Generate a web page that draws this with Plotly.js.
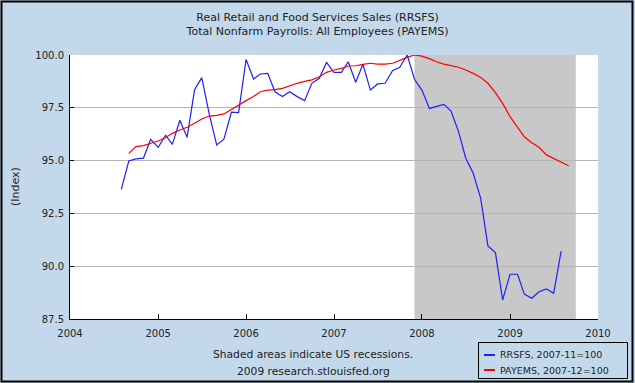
<!DOCTYPE html>
<html>
<head>
<meta charset="utf-8">
<script src="https://cdn.plot.ly/plotly-3.0.1.min.js"></script>
<style>
  html, body { margin: 0; padding: 0; background: #C3D8EB; }
  #chart { width: 635px; height: 383px; }
</style>
</head>
<body>
<div id="chart"></div>
<script>
// ---- data ----
const titleLines = ["Real Retail and Food Services Sales (RRSFS)", "Total Nonfarm Payrolls: All Employees (PAYEMS)"];
const seriesNames = ["RRSFS, 2007-11=100", "PAYEMS, 2007-12=100"];
const yAxisLabel = "(Index)";
const footnotes = ["Shaded areas indicate US recessions.", "2009 research.stlouisfed.org"];
const xTickVals = ["2004-01-01", "2005-01-01", "2006-01-01", "2007-01-01", "2008-01-01", "2009-01-01", "2010-01-01"];
const xTickText = ["2004", "2005", "2006", "2007", "2008", "2009", "2010"];
const yTickVals = [87.5, 90.0, 92.5, 95.0, 97.5, 100.0];
const recession = ["2007-12-01", "2009-10-01"];

const rrsfsStart = "2004-08";
const rrsfs = [
  93.64, 94.98, 95.08, 95.12, 96.01,
  95.63, 96.20, 95.77, 96.91, 96.10, 98.34, 98.93, 97.20, 95.74, 96.01, 97.29, 97.27,
  99.79, 98.86, 99.10, 99.13, 98.26, 98.03, 98.26, 98.03, 97.84, 98.66, 98.90, 99.65,
  99.18, 99.18, 99.68, 98.71, 99.56, 98.34, 98.63, 98.66, 99.26, 99.42, 100.0, 98.85,
  98.34, 97.47, 97.55, 97.66, 97.35, 96.37, 95.11, 94.40, 93.21, 90.96, 90.65, 88.40,
  89.62, 89.62, 88.68, 88.48, 88.79, 88.92, 88.72, 90.72
];
const payemsStart = "2004-09";
const payems = [
  95.34, 95.66, 95.71, 95.82,
  95.93, 96.09, 96.29, 96.45, 96.58, 96.77, 96.97, 97.11, 97.14, 97.21, 97.43, 97.62,
  97.84, 98.03, 98.26, 98.34, 98.36, 98.42, 98.55, 98.66, 98.75, 98.82, 98.97, 99.18,
  99.29, 99.37, 99.48, 99.49, 99.56, 99.61, 99.57, 99.57, 99.61, 99.76, 99.89, 100.0,
  99.95, 99.83, 99.68, 99.57, 99.49, 99.42, 99.29, 99.13, 98.93, 98.66, 98.22, 97.71,
  97.08, 96.61, 96.13, 95.85, 95.63, 95.27, 95.11, 94.95, 94.76
];
const colors = ["#1F1FFF", "#FF0000"];

// monthly date labels for each series
function months(start, n) {
  let [y, m] = start.split("-").map(Number);
  const out = [];
  for (let i = 0; i < n; i++) {
    out.push(y + "-" + String(m).padStart(2, "0") + "-01");
    m++; if (m > 12) { m = 1; y++; }
  }
  return out;
}

// ---- layout geometry ----
const W = 635, H = 383;
const L = 70, R = 598, T = 55, B = 319;
const px = x => (x - L) / (R - L);
const py = y => (B - y) / (B - T);
const font = "DejaVu Sans, Verdana, sans-serif";
const textColor = "#222222";

const traces = [
  { x: months(rrsfsStart, rrsfs.length), y: rrsfs, type: "scatter", mode: "lines",
    name: seriesNames[0], line: { color: colors[0], width: 1.2 }, showlegend: false, hoverinfo: "x+y" },
  { x: months(payemsStart, payems.length), y: payems, type: "scatter", mode: "lines",
    name: seriesNames[1], line: { color: colors[1], width: 1.2 }, showlegend: false, hoverinfo: "x+y" }
];

const shapes = [
  // recession shading
  { type: "rect", xref: "x", yref: "paper", x0: recession[0], x1: recession[1], y0: 0, y1: 1,
    fillcolor: "#C8C8C8", line: { width: 0 }, layer: "between" },
  // outer frame
  { type: "rect", xref: "paper", yref: "paper", x0: px(1.5), x1: px(632.5), y0: py(1.5), y1: py(381.5),
    line: { color: "#000000", width: 2 }, fillcolor: "rgba(0,0,0,0)", layer: "above" },
  // legend box
  { type: "rect", xref: "paper", yref: "paper", x0: px(478.5), x1: px(627.5), y0: py(342.5), y1: py(378.5),
    line: { color: "#000000", width: 1 }, fillcolor: "rgba(0,0,0,0)", layer: "above" },
  // legend samples
  { type: "line", xref: "paper", yref: "paper", x0: px(484), x1: px(495), y0: py(355), y1: py(355),
    line: { color: colors[0], width: 2 } },
  { type: "line", xref: "paper", yref: "paper", x0: px(484), x1: px(495), y0: py(370), y1: py(370),
    line: { color: colors[1], width: 2 } }
];

const annotations = [
  { xref: "paper", yref: "paper", x: px(313), y: py(355), text: footnotes[0], showarrow: false,
    xanchor: "center", yanchor: "middle", font: { family: font, size: 10.7, color: textColor } },
  { xref: "paper", yref: "paper", x: px(313), y: py(371), text: footnotes[1], showarrow: false,
    xanchor: "center", yanchor: "middle", font: { family: font, size: 10.7, color: textColor } },
  { xref: "paper", yref: "paper", x: px(498), y: py(355), text: seriesNames[0], showarrow: false,
    xanchor: "left", yanchor: "middle", font: { family: font, size: 9.5, color: textColor } },
  { xref: "paper", yref: "paper", x: px(498), y: py(370), text: seriesNames[1], showarrow: false,
    xanchor: "left", yanchor: "middle", font: { family: font, size: 9.5, color: textColor } },
  { xref: "paper", yref: "paper", x: px(15), y: py(187), text: yAxisLabel, showarrow: false, textangle: -90,
    xanchor: "center", yanchor: "middle", font: { family: font, size: 11, color: textColor } }
];

const layout = {
  width: W, height: H,
  margin: { l: L, r: W - R, t: T, b: H - B, pad: 0 },
  paper_bgcolor: "#C3D8EB",
  plot_bgcolor: "#FFFFFF",
  font: { family: font, size: 10, color: textColor },
  title: { text: titleLines.join("<br>"), xref: "container", x: 0.5, xanchor: "center",
           yref: "container", y: 1 - 21 / H, yanchor: "top",
           font: { family: font, size: 11, color: textColor } },
  showlegend: false,
  xaxis: {
    type: "date", range: [xTickVals[0], xTickVals[xTickVals.length - 1]],
    tickmode: "array", tickvals: xTickVals, ticktext: xTickText,
    ticks: "inside", ticklen: 5, tickcolor: "#000000", tickwidth: 1,
    showline: true, linecolor: "#000000", linewidth: 1, mirror: false,
    showgrid: false, zeroline: false, fixedrange: true, ticklabelstandoff: 5,
    tickfont: { family: font, size: 10, color: textColor }
  },
  yaxis: {
    range: [yTickVals[0], yTickVals[yTickVals.length - 1]],
    tickmode: "array", tickvals: yTickVals, tickformat: ".1f",
    ticks: "inside", ticklen: 4, tickcolor: "#000000", tickwidth: 1,
    showline: true, linecolor: "#000000", linewidth: 1, mirror: false,
    showgrid: true, gridcolor: "#B4B4B4", gridwidth: 1, zeroline: false, fixedrange: true,
    ticklabelstandoff: 3,
    tickfont: { family: font, size: 10, color: textColor }
  },
  shapes: shapes,
  annotations: annotations
};

Plotly.newPlot("chart", traces, layout, { displayModeBar: false, staticPlot: true });
</script>
</body>
</html>
